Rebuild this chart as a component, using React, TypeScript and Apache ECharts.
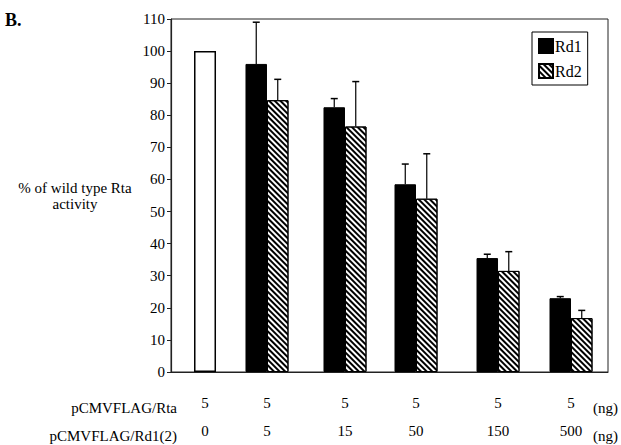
import React, { useEffect, useRef } from "react";
import * as echarts from "echarts";

// Group centres along a hidden 0..6 value axis (groups are unevenly spaced in the figure)
const groupPositions = [0.467, 1.318, 2.389, 3.364, 4.49, 5.492];
const rtaAmounts = ["5", "5", "5", "5", "5", "5"];
const rdAmounts = ["0", "5", "15", "50", "150", "500"];
const wildTypeValue = 100;
const rd1Values = [null, 96, 82.5, 58.5, 35.5, 23];
const rd1Errors = [null, 13, 2.7, 6.3, 1.2, 0.5];
const rd2Values = [null, 84.7, 76.5, 54, 31.5, 16.8];
const rd2Errors = [null, 6.5, 14, 14, 6, 2.4];
const yTicks = { min: 0, max: 110, interval: 10 };

const SERIF = "Liberation Serif";
const BAR_W = 21.5;

export default function App() {
  const ref = useRef<HTMLDivElement>(null);
  useEffect(() => {
    if (!ref.current) return;
    const chart = echarts.init(ref.current, undefined, { renderer: "svg" });
    const rd1Data: number[][] = [];
    const rd2Data: number[][] = [];
    const errData: number[][] = [];
    groupPositions.forEach((x, i) => {
      if (rd1Values[i] != null) {
        rd1Data.push([x, rd1Values[i] as number]);
        errData.push([x, rd1Values[i] as number, rd1Errors[i] as number, -1]);
      }
      if (rd2Values[i] != null) {
        rd2Data.push([x, rd2Values[i] as number]);
        errData.push([x, rd2Values[i] as number, rd2Errors[i] as number, 1]);
      }
    });
    const nearestIndex = (v: number) => {
      let best = 0;
      groupPositions.forEach((p, i) => {
        if (Math.abs(p - v) < Math.abs(groupPositions[best] - v)) best = i;
      });
      return best;
    };
    const textFont = { fontFamily: SERIF, fontSize: 15, fill: "#000", verticalAlign: "middle" };
    chart.setOption({
      animation: false,
      backgroundColor: "#fff",
      textStyle: { fontFamily: SERIF },
      grid: { left: 171, top: 19, right: 13, bottom: 66, show: true, borderColor: "#222", borderWidth: 1, backgroundColor: "transparent" },
      legend: {
        data: ["Rd1", "Rd2"], orient: "vertical", left: 532, top: 32, padding: [6, 6, 6, 6],
        itemWidth: 14, itemHeight: 14, itemGap: 9, icon: "rect", backgroundColor: "#fff", borderColor: "#000", borderWidth: 1,
        textStyle: { fontFamily: SERIF, fontSize: 16, color: "#000", padding: [0, 0, 0, -3] },
      },
      xAxis: [
        {
          type: "value", min: 0, max: 6,
          axisLine: { show: true, lineStyle: { color: "#222", width: 1 } },
          axisTick: { show: false }, splitLine: { show: false },
          axisLabel: {
            show: true, customValues: groupPositions, margin: 17, fontFamily: SERIF, fontSize: 15, color: "#000", lineHeight: 28,
            formatter: (v: number) => { const i = nearestIndex(v); return rtaAmounts[i] + "\n" + rdAmounts[i]; },
          },
        },
        { type: "value", min: 0, max: 6, show: false },
      ],
      yAxis: {
        type: "value", min: yTicks.min, max: yTicks.max, interval: yTicks.interval,
        name: "% of wild type Rta\nactivity", nameLocation: "middle", nameRotate: 0, nameGap: 96,
        nameTextStyle: { fontFamily: SERIF, fontSize: 15, color: "#000", align: "center", lineHeight: 16, padding: [8, 0, 0, 0] },
        axisLine: { show: true, lineStyle: { color: "#222", width: 1.2 } },
        axisTick: { show: true, inside: false, length: 4, lineStyle: { color: "#222" } },
        splitLine: { show: false },
        axisLabel: { fontFamily: SERIF, fontSize: 15, color: "#000", margin: 6 },
      },
      series: [
        { name: "Wild type", type: "bar", xAxisIndex: 1, barWidth: 22, data: [[groupPositions[0], wildTypeValue]], itemStyle: { color: "#fff", borderColor: "#000", borderWidth: 1.5 } },
        { name: "Rd1", type: "bar", xAxisIndex: 0, barWidth: BAR_W, barGap: "0%", data: rd1Data, itemStyle: { color: "#000", borderColor: "#000", borderWidth: 1 } },
        {
          name: "Rd2", type: "bar", xAxisIndex: 0, barWidth: BAR_W, barGap: "0%", data: rd2Data,
          itemStyle: { color: "#fff", borderColor: "#000", borderWidth: 1, decal: { symbol: "rect", symbolSize: 1, color: "#000", dashArrayX: [1, 0], dashArrayY: [1.8, 1.8], rotation: Math.PI / 4 } },
        },
        {
          name: "errors", type: "custom", xAxisIndex: 0, z: 5, data: errData,
          renderItem: (params: any, api: any) => {
            const x = api.value(0), y = api.value(1), e = api.value(2), side = api.value(3);
            const base = api.coord([x, y]);
            const top = api.coord([x, y + e]);
            const cx = base[0] + (side * BAR_W) / 2;
            return {
              type: "group",
              children: [
                { type: "line", shape: { x1: cx, y1: base[1], x2: cx, y2: top[1] }, style: { stroke: "#000", lineWidth: 1.2 } },
                { type: "line", shape: { x1: cx - 3.5, y1: top[1], x2: cx + 3.5, y2: top[1] }, style: { stroke: "#000", lineWidth: 1.5 } },
              ],
            };
          },
        },
      ],
      graphic: [
        { type: "text", left: 5, top: 11, style: { text: "B.", fontFamily: SERIF, fontWeight: "bold", fontSize: 18, fill: "#000" } },
        { type: "text", x: 177, y: 408, style: { ...textFont, text: "pCMVFLAG/Rta", align: "right" } },
        { type: "text", x: 177, y: 436, style: { ...textFont, text: "pCMVFLAG/Rd1(2)", align: "right" } },
        { type: "text", x: 593, y: 408, style: { ...textFont, text: "(ng)" } },
        { type: "text", x: 593, y: 436, style: { ...textFont, text: "(ng)" } },
      ],
    });
    return () => chart.dispose();
  }, []);
  return <div ref={ref} style={{ position: "fixed", left: 0, top: 0, width: 621, height: 445 }} />;
}
